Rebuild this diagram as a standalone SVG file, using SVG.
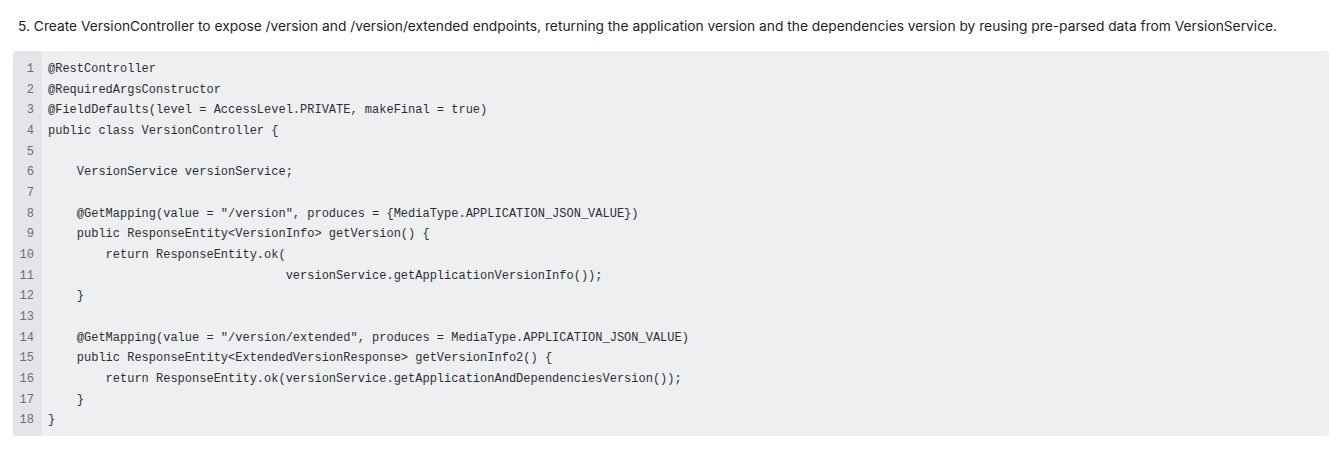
<svg xmlns="http://www.w3.org/2000/svg" width="1329" height="462" viewBox="0 0 1329 462">
<style>
.t{font-family:Inter,"Liberation Sans",sans-serif;font-size:13px;fill:#1f2328}
.c{font-family:"Liberation Mono","DejaVu Sans Mono",monospace;font-size:12px;fill:#2b2f33;white-space:pre}
.n{font-family:"Liberation Mono","DejaVu Sans Mono",monospace;font-size:12px;fill:#6a6f75;text-anchor:end}
</style>
<rect width="1329" height="462" fill="#ffffff"/>
<text class="t" x="18" y="31" textLength="1259" lengthAdjust="spacingAndGlyphs">5. Create VersionController to expose /version and /version/extended endpoints, returning the application version and the dependencies version by reusing pre-parsed data from VersionService.</text>
<g id="codeblock">
<rect x="13" y="51" width="1316" height="385" rx="3" fill="#eeeff1"/>
<rect x="13" y="51" width="29" height="385" rx="3" fill="#e4e5e8"/>
<g id="numbers">
<text class="n" x="34" y="72">1</text><text class="n" x="34" y="93">2</text><text class="n" x="34" y="113">3</text><text class="n" x="34" y="134">4</text><text class="n" x="34" y="155">5</text><text class="n" x="34" y="175">6</text><text class="n" x="34" y="196">7</text><text class="n" x="34" y="217">8</text><text class="n" x="34" y="237">9</text><text class="n" x="34" y="258">10</text><text class="n" x="34" y="279">11</text><text class="n" x="34" y="299">12</text><text class="n" x="34" y="320">13</text><text class="n" x="34" y="341">14</text><text class="n" x="34" y="361">15</text><text class="n" x="34" y="382">16</text><text class="n" x="34" y="403">17</text><text class="n" x="34" y="423">18</text>
</g>
<g id="code">
<text class="c" x="48" y="72">@RestController</text>
<text class="c" x="48" y="93">@RequiredArgsConstructor</text>
<text class="c" x="48" y="113">@FieldDefaults(level = AccessLevel.PRIVATE, makeFinal = true)</text>
<text class="c" x="48" y="134">public class VersionController {</text>
<text class="c" x="48" y="175">    VersionService versionService;</text>
<text class="c" x="48" y="217">    @GetMapping(value = "/version", produces = {MediaType.APPLICATION_JSON_VALUE})</text>
<text class="c" x="48" y="237">    public ResponseEntity&lt;VersionInfo&gt; getVersion() {</text>
<text class="c" x="48" y="258">        return ResponseEntity.ok(</text>
<text class="c" x="48" y="279">                                 versionService.getApplicationVersionInfo());</text>
<text class="c" x="48" y="299">    }</text>
<text class="c" x="48" y="341">    @GetMapping(value = "/version/extended", produces = MediaType.APPLICATION_JSON_VALUE)</text>
<text class="c" x="48" y="361">    public ResponseEntity&lt;ExtendedVersionResponse&gt; getVersionInfo2() {</text>
<text class="c" x="48" y="382">        return ResponseEntity.ok(versionService.getApplicationAndDependenciesVersion());</text>
<text class="c" x="48" y="403">    }</text>
<text class="c" x="48" y="423">}</text>
</g>
</g>
</svg>
